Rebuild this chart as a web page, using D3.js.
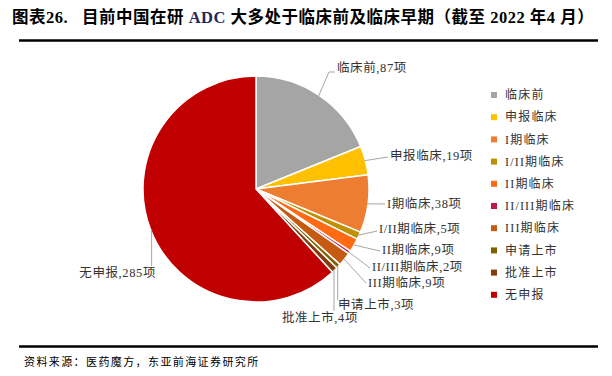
<!DOCTYPE html>
<html>
<head>
<meta charset="utf-8">
<script src="https://cdn.jsdelivr.net/npm/d3@7/dist/d3.min.js"></script>
<style>
  body { margin: 0; background: #fff; }
  svg { display: block; }
  text { font-family: "Liberation Serif", "Noto Sans CJK SC", serif; }
</style>
</head>
<body>
<svg id="chart"></svg>
<script>
  // data
  var categories = ["临床前", "申报临床", "I期临床", "I/II期临床", "II期临床", "II/III期临床", "III期临床", "申请上市", "批准上市", "无申报"];
  var counts = [87, 19, 38, 5, 9, 2, 9, 3, 4, 285];
  var colors = ["#a5a5a5", "#ffc000", "#ed7d31", "#bf9000", "#ff6a13", "#c0194c", "#c55a11", "#7f6000", "#843c0c", "#c00000"];

  var width = 612, height = 376;
  var cx = 256, cy = 189, radius = 113;

  var svg = d3.select("#chart").attr("width", width).attr("height", height);

  // title
  var title = svg.append("text")
    .attr("x", 12).attr("y", 23)
    .style("white-space", "pre")
    .style("font-size", "16.5px").style("font-weight", "bold").style("letter-spacing", "0.5px").attr("fill", "#000");
  title.append("tspan").text("图表26.   目前中国在研 ");
  title.append("tspan").attr("fill", "#1f2a5c").text("ADC");
  title.append("tspan").text(" 大多处于临床前及临床早期（截至 2022 年4 月）");

  svg.append("line").attr("x1", 19).attr("x2", 598).attr("y1", 40.5).attr("y2", 40.5)
    .attr("stroke", "#000").attr("stroke-width", 2.5);
  svg.append("line").attr("x1", 19).attr("x2", 598).attr("y1", 346.5).attr("y2", 346.5)
    .attr("stroke", "#000").attr("stroke-width", 2.5);

  svg.append("text").attr("x", 24).attr("y", 366)
    .style("font-size", "11px").style("letter-spacing", "1.4px").attr("fill", "#000")
    .text("资料来源：医药魔方，东亚前海证券研究所");

  // pie
  var data = categories.map(function(c, i) { return { name: c, value: counts[i], color: colors[i] }; });
  var pie = d3.pie().value(function(d) { return d.value; }).sort(null);
  var arcs = pie(data);
  var arc = d3.arc().innerRadius(0).outerRadius(radius);

  var g = svg.append("g").attr("transform", "translate(" + cx + "," + cy + ")");
  g.selectAll("path").data(arcs).enter().append("path")
    .attr("d", arc)
    .attr("fill", function(d) { return d.data.color; })
    .attr("stroke", "#fff").attr("stroke-width", 1.5).attr("stroke-linejoin", "round");

  // label layout: elbow point + text position, relative to page
  var labelPos = [
    { ex: 329, ey: 72, hx: 335, tx: 337, ty: 68, anchor: "start" },
    { ex: 388, ey: 157, tx: 390, ty: 156, anchor: "start" },
    { ex: 385, ey: 204, tx: 387, ty: 204, anchor: "start" },
    { ex: 377, ey: 231, tx: 379, ty: 229, anchor: "start" },
    { ex: 380, ey: 251, tx: 382, ty: 250, anchor: "start" },
    { ex: 370, ey: 268, tx: 372, ty: 267, anchor: "start" },
    { ex: 366, ey: 283, tx: 368, ty: 283, anchor: "start" },
    { vertical: 300, tx: 338, ty: 305, anchor: "start" },
    { vertical: 311, tx: 358, ty: 318, anchor: "end" },
    { vertical: 266, tx: 156, ty: 273, anchor: "end" }
  ];

  arcs.forEach(function(a, i) {
    var lp = labelPos[i];
    var mid = (a.startAngle + a.endAngle) / 2;
    var px = cx + (radius - 1) * Math.sin(mid);
    var py = cy - (radius - 1) * Math.cos(mid);
    var pts;
    if (lp.vertical) {
      pts = [[px, py], [px, lp.vertical]];
    } else if (lp.hx) {
      pts = [[px, py], [lp.ex, lp.ey], [lp.hx, lp.ey]];
    } else {
      pts = [[px, py], [lp.ex, lp.ey]];
    }
    svg.append("path").attr("d", d3.line()(pts))
      .attr("fill", "none").attr("stroke", "#a6a6a6").attr("stroke-width", 1);
    svg.append("text")
      .attr("x", lp.tx).attr("y", lp.ty).attr("dy", "0.35em")
      .attr("text-anchor", lp.anchor)
      .style("font-size", "12.5px").style("letter-spacing", "0.6px").attr("fill", "#333")
      .text(a.data.name + "," + a.data.value + "项");
  });

  // legend
  var legend = svg.append("g").selectAll("g").data(data).enter().append("g")
    .attr("transform", function(d, i) { return "translate(491," + (95 + i * 22.2) + ")"; });
  legend.append("rect").attr("x", 0).attr("y", -3).attr("width", 6).attr("height", 6)
    .attr("fill", function(d) { return d.color; });
  legend.append("text").attr("x", 14).attr("y", 0).attr("dy", "0.35em")
    .style("font-size", "12px").style("letter-spacing", "1.2px").attr("fill", "#333")
    .text(function(d) { return d.name; });
</script>
</body>
</html>
